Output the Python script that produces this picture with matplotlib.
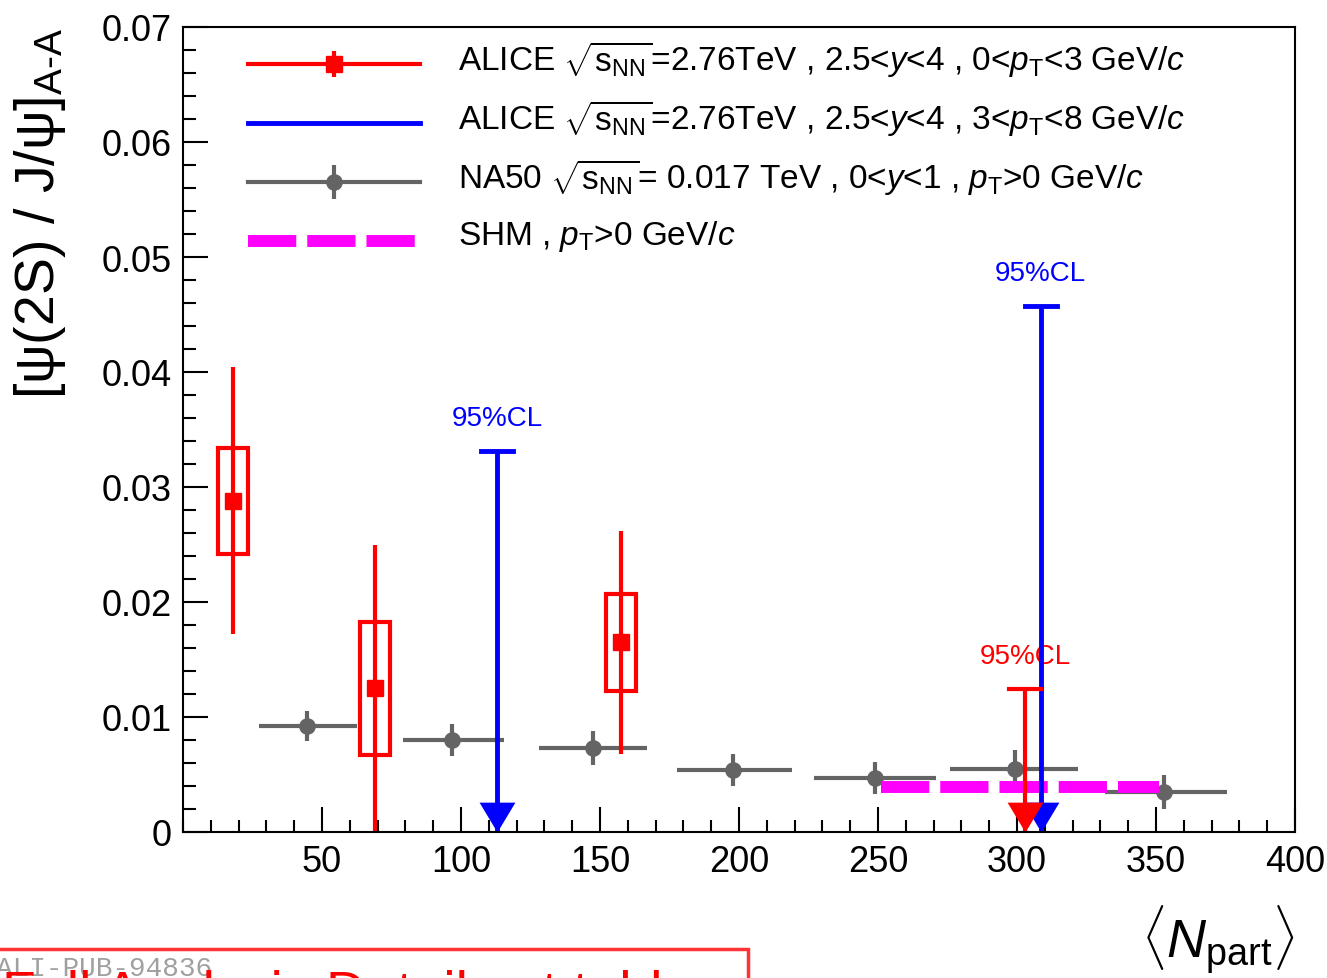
import numpy as np
import matplotlib
matplotlib.use("Agg")
from matplotlib import pyplot as plt
from matplotlib.patches import Rectangle
from matplotlib.ticker import MultipleLocator, FixedLocator, FuncFormatter

plt.rcParams['font.family'] = ['Liberation Sans', 'DejaVu Sans']
plt.rcParams['mathtext.fontset'] = 'custom'
plt.rcParams['mathtext.rm'] = 'Liberation Sans'
plt.rcParams['mathtext.it'] = 'Liberation Sans:italic'
plt.rcParams['mathtext.bf'] = 'Liberation Sans:bold'
plt.rcParams['mathtext.sf'] = 'Liberation Sans'

# ALICE 2.76 TeV, 0<pT<3 GeV/c
alice_low_npart = [18.0, 69.0, 157.5]
alice_low_ratio = [0.0288, 0.0125, 0.0165]
alice_low_stat = [0.0116, 0.0125, 0.0097]
alice_low_syst = [0.0046, 0.0058, 0.0042]
alice_low_lim_npart = [303.0]
alice_low_lim = [0.0124]

# ALICE 2.76 TeV, 3<pT<8 GeV/c (upper limits only)
alice_high_lim_npart = [113.0, 308.5]
alice_high_lim = [0.0331, 0.0457]

# NA50 17 GeV
na50_npart = [44.6, 96.8, 147.5, 197.8, 248.9, 299.3, 353.0]
na50_npart_lo = [27.2, 79.0, 128.2, 177.7, 227.0, 276.0, 331.7]
na50_npart_hi = [62.6, 115.4, 166.9, 219.0, 271.0, 322.0, 375.5]
na50_ratio = [0.0092, 0.0080, 0.0073, 0.0054, 0.0047, 0.0055, 0.0035]
na50_stat = [0.0013, 0.0014, 0.0015, 0.0014, 0.0014, 0.0016, 0.0015]

# statistical hadronization model
shm_npart = [251.0, 351.0]
shm_ratio = [0.0039, 0.0039]

RED = '#ff0000'
BLUE = '#0000ff'
GREY = '#646464'
MAGENTA = '#ff00ff'
SHM_DASH = (0, (4.04, 0.92))

# downward arrow with the tip at the marker origin
arrow_head = [(0, 0), (-0.6, 1.0), (0.6, 1.0), (0, 0)]

fig = plt.figure(figsize=(13.27, 9.79), dpi=100)
ax = fig.add_axes([183/1327, 1-833/979, 1112/1327, 805/979])
ax.set_xlim(0, 400)
ax.set_ylim(0, 0.07)

# NA50
na50_x = np.array(na50_npart)
na50_xerr = [na50_x - np.array(na50_npart_lo), np.array(na50_npart_hi) - na50_x]
ax.errorbar(na50_npart, na50_ratio, yerr=na50_stat, xerr=na50_xerr, fmt='o', color=GREY,
            ms=11, elinewidth=3, capsize=0, zorder=3)

# SHM
ax.plot(shm_npart, shm_ratio, color=MAGENTA, lw=8.6, linestyle=SHM_DASH,
        dash_capstyle='butt', zorder=4)

# ALICE low pT: stat bars + syst boxes
ax.errorbar(alice_low_npart, alice_low_ratio, yerr=alice_low_stat, fmt='s', color=RED,
            ms=11, elinewidth=3, capsize=0, zorder=5)
box_w = 11.0
for x, y, s in zip(alice_low_npart, alice_low_ratio, alice_low_syst):
    ax.add_patch(Rectangle((x - box_w/2, y - s), box_w, 2*s, fill=False,
                           edgecolor=RED, lw=3, zorder=5))

# upper limits
cap_w = 5.8
for x, lim in zip(alice_low_lim_npart, alice_low_lim):
    ax.annotate('95%CL', (x, lim), xytext=(0, 15), textcoords='offset points',
                ha='center', va='bottom', color=RED, fontsize=20, zorder=4)
for x, lim in zip(alice_high_lim_npart, alice_high_lim):
    ax.plot([x, x], [0, lim], color=BLUE, lw=3.5, solid_capstyle='butt', zorder=6)
    ax.plot([x - cap_w, x + cap_w], [lim, lim], color=BLUE, lw=3.5, zorder=6)
    ax.plot([x], [0], marker=arrow_head, ms=43, color=BLUE, mec='none', zorder=6)
    ax.annotate('95%CL', (x, lim), xytext=(0, 15), textcoords='offset points',
                ha='center', va='bottom', color=BLUE, fontsize=20, zorder=6)
for x, lim in zip(alice_low_lim_npart, alice_low_lim):
    ax.plot([x, x], [0, lim], color=RED, lw=3, solid_capstyle='butt', zorder=7)
    ax.plot([x - cap_w, x + cap_w], [lim, lim], color=RED, lw=3, zorder=7)
    ax.plot([x], [0], marker=arrow_head, ms=43, color=RED, mec='none', zorder=7)

# axes styling
for side in ax.spines.values():
    side.set_linewidth(1.5)
    side.set_zorder(10)
ax.xaxis.set_major_locator(FixedLocator([50, 100, 150, 200, 250, 300, 350, 400]))
ax.xaxis.set_minor_locator(MultipleLocator(10))
ax.yaxis.set_major_locator(MultipleLocator(0.01))
ax.yaxis.set_minor_locator(MultipleLocator(0.002))
ax.yaxis.set_major_formatter(FuncFormatter(lambda v, p: '{:g}'.format(round(v, 4))))
ax.tick_params(which='both', direction='in', top=False, right=False, width=1.5,
               labelsize=26)
ax.tick_params(which='major', length=18)
ax.tick_params(which='minor', length=9)
ax.tick_params(axis='y', pad=8)
ax.tick_params(axis='x', pad=9)

ax.set_ylabel(r'[ψ(2S) / J/ψ]$_{\mathrm{A\text{-}A}}$', fontsize=40)
ax.yaxis.set_label_coords(-0.103, 0.77)
fig.text(1295/1327, 1 - 977/979, r'$\langle N_{\mathrm{part}}\rangle$', fontsize=39,
         ha='right', va='bottom')

# legend drawn row by row in axes coordinates
leg_x0, leg_x1, leg_xt = 0.0585, 0.2131, 0.2473
leg_rows = [0.954, 0.8807, 0.8075, 0.7342]
leg_text_dy = 0.007
labels = [
    r'ALICE $\sqrt{\mathrm{s}_{\mathrm{NN}}}$=2.76TeV , 2.5<$y$<4 , 0<$p_{\mathrm{T}}$<3 GeV/$c$',
    r'ALICE $\sqrt{\mathrm{s}_{\mathrm{NN}}}$=2.76TeV , 2.5<$y$<4 , 3<$p_{\mathrm{T}}$<8 GeV/$c$',
    r'NA50 $\sqrt{\mathrm{s}_{\mathrm{NN}}}$= 0.017 TeV , 0<$y$<1 , $p_{\mathrm{T}}$>0 GeV/$c$',
    r'SHM , $p_{\mathrm{T}}$>0 GeV/$c$',
]
tr = ax.transAxes
xm = (leg_x0 + leg_x1) / 2
y = leg_rows[0]
ax.plot([leg_x0, leg_x1], [y, y], color=RED, lw=3, transform=tr, clip_on=False)
ax.errorbar([xm], [y], yerr=0.016, fmt='s', color=RED, ms=11, elinewidth=3,
            transform=tr, clip_on=False)
y = leg_rows[1]
ax.plot([leg_x0, leg_x1], [y, y], color=BLUE, lw=3.5, transform=tr, clip_on=False)
y = leg_rows[2]
ax.plot([leg_x0, leg_x1], [y, y], color=GREY, lw=3, transform=tr, clip_on=False)
ax.errorbar([xm], [y], yerr=0.021, fmt='o', color=GREY, ms=11, elinewidth=3,
            transform=tr, clip_on=False)
y = leg_rows[3]
ax.plot([leg_x0, 0.2100], [y, y], color=MAGENTA, lw=8.6, linestyle=SHM_DASH,
        dash_capstyle='butt', transform=tr, clip_on=False)
for row, lab in zip(leg_rows, labels):
    ax.text(leg_xt, row + leg_text_dy, lab, transform=tr, fontsize=24,
            ha='left', va='center')

# publication tag box at the bottom
fig.patches.append(Rectangle((-0.01, -0.05), 748/1327 + 0.01, 0.05 + 1 - 950/979,
                             transform=fig.transFigure, fill=False,
                             edgecolor='#ff3333', lw=2.5))
fig.text(-4/1327, 1 - 976/979, 'ALI-PUB-94836', fontsize=20, color='#a0a0a0',
         family='Liberation Mono', ha='left', va='baseline')
fig.text(2/1327, 1 - 1010/979, 'Full Analysis Details at table', fontsize=40,
         color=RED, ha='left', va='baseline')

fig.savefig('out.png', dpi=100)
